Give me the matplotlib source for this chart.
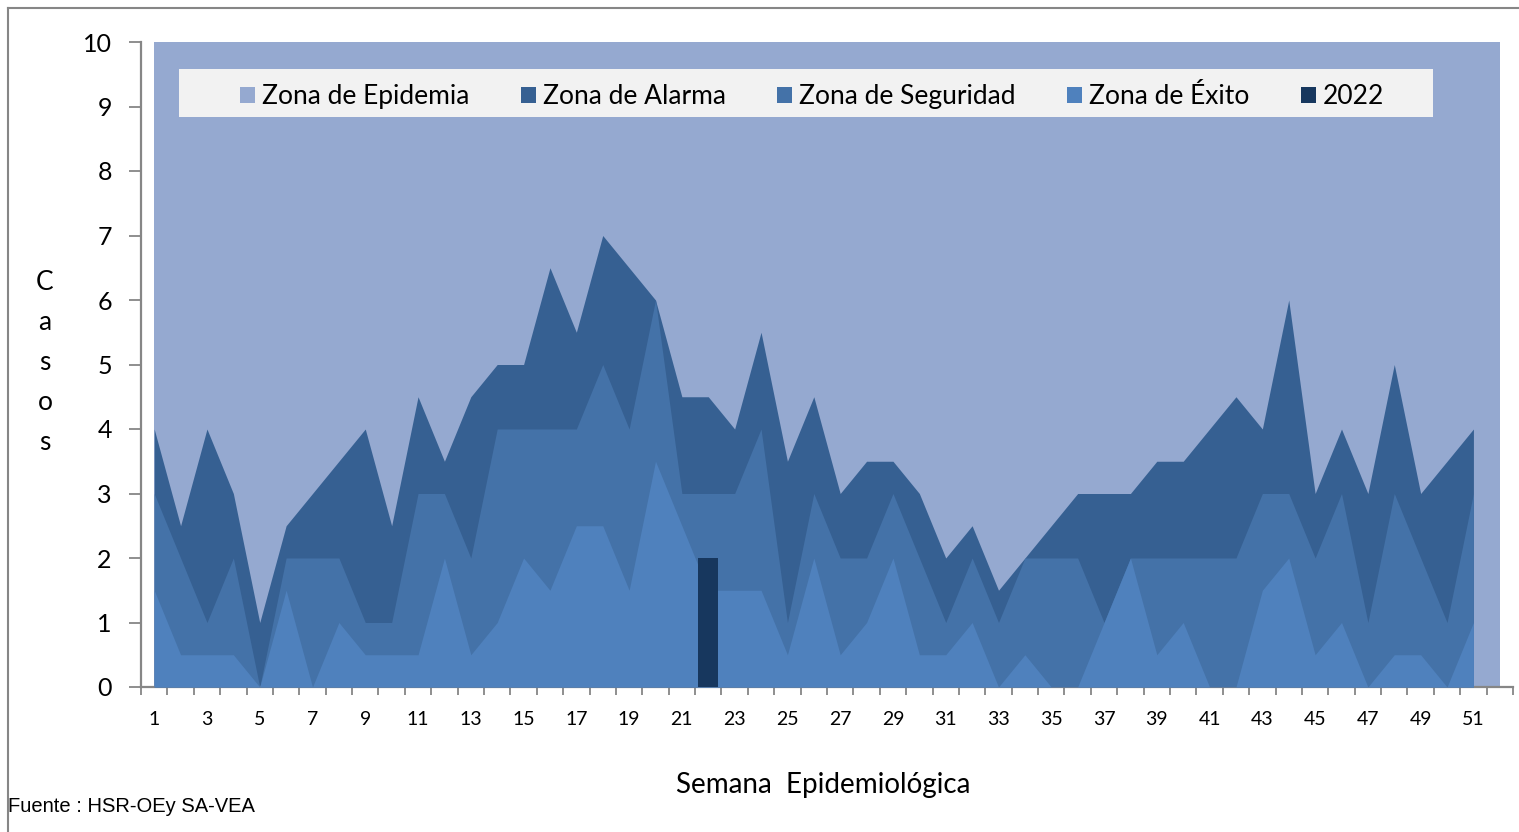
import numpy as np
import matplotlib
matplotlib.use('Agg')
import matplotlib.pyplot as plt
import matplotlib.patches as mpatches
from matplotlib.lines import Line2D

plt.rcParams['font.family'] = ['Lato', 'DejaVu Sans']

# ── Data ──────────────────────────────────────────────────────────────────────
semanas = list(range(1, 52))
semanas_epidemia = list(range(1, 53))

zona_epidemia = [10, 10, 10, 10, 10, 10, 10, 10, 10, 10,
                 10, 10, 10, 10, 10, 10, 10, 10, 10, 10,
                 10, 10, 10, 10, 10, 10, 10, 10, 10, 10,
                 10, 10, 10, 10, 10, 10, 10, 10, 10, 10,
                 10, 10, 10, 10, 10, 10, 10, 10, 10, 10,
                 10, 10]
zona_alarma = [4, 2.5, 4, 3, 1, 2.5, 3, 3.5, 4, 2.5,
               4.5, 3.5, 4.5, 5, 5, 6.5, 5.5, 7, 6.5, 6,
               4.5, 4.5, 4, 5.5, 3.5, 4.5, 3, 3.5, 3.5, 3,
               2, 2.5, 1.5, 2, 2.5, 3, 3, 3, 3.5, 3.5,
               4, 4.5, 4, 6, 3, 4, 3, 5, 3, 3.5,
               4]
zona_seguridad = [3, 2, 1, 2, 0, 2, 2, 2, 1, 1,
                  3, 3, 2, 4, 4, 4, 4, 5, 4, 6,
                  3, 3, 3, 4, 1, 3, 2, 2, 3, 2,
                  1, 2, 1, 2, 2, 2, 1, 2, 2, 2,
                  2, 2, 3, 3, 2, 3, 1, 3, 2, 1,
                  3]
zona_exito = [1.5, 0.5, 0.5, 0.5, 0, 1.5, 0, 1, 0.5, 0.5,
              0.5, 2, 0.5, 1, 2, 1.5, 2.5, 2.5, 1.5, 3.5,
              2.5, 1.5, 1.5, 1.5, 0.5, 2, 0.5, 1, 2, 0.5,
              0.5, 1, 0, 0.5, 0, 0, 1, 2, 0.5, 1,
              0, 0, 1.5, 2, 0.5, 1, 0, 0.5, 0.5, 0,
              1]
semanas_2022 = [22]
casos_2022 = [2]

xtick_labels = [str(s) for s in semanas if s % 2 == 1]

# ── Colours ───────────────────────────────────────────────────────────────────
C_EPI = '#95A9D0'
C_ALA = '#366092'
C_SEG = '#4472A8'
C_EXI = '#4F81BD'
C_2022 = '#17375E'
GRAY = '#868686'

fig = plt.figure(figsize=(15.19, 8.32), dpi=100)
ax = fig.add_axes([141 / 1519, (832 - 687) / 832, 1372 / 1519, 645 / 832])

ax.fill_between(semanas_epidemia, 0, zona_epidemia, color=C_EPI, lw=0, zorder=1)
ax.fill_between(semanas, 0, zona_alarma, color=C_ALA, lw=0, zorder=2)
ax.fill_between(semanas, 0, zona_seguridad, color=C_SEG, lw=0, zorder=3)
ax.fill_between(semanas, 0, zona_exito, color=C_EXI, lw=0, zorder=4)
ax.bar(semanas_2022, casos_2022, width=0.76, color=C_2022, zorder=5)

ax.set_xlim(0.5, 52.5)
ax.set_ylim(0, 10)

ax.spines['top'].set_visible(False)
ax.spines['right'].set_visible(False)
for s in ('left', 'bottom'):
    ax.spines[s].set_color(GRAY)
    ax.spines[s].set_linewidth(1.6)

ax.set_yticks(range(0, 11))
ax.tick_params(axis='y', length=9, width=1.3, color=GRAY, pad=12,
               labelsize=18, direction='out')
ax.set_xticks([s for s in semanas if s % 2 == 1])
ax.set_xticklabels(xtick_labels)
ax.set_xticks(np.arange(0.5, 53, 1.0), minor=True)
ax.tick_params(axis='x', which='major', length=0, pad=17, labelsize=14)
ax.tick_params(axis='x', which='minor', length=6, width=1.3, color=GRAY,
               direction='out')

# legend box
ax.add_patch(mpatches.Rectangle((0.028, 0.884), 0.914, 0.074,
                                transform=ax.transAxes, facecolor='#F2F2F2',
                                edgecolor='none', zorder=6))
handles = [mpatches.Patch(facecolor=C_EPI, label='Zona de Epidemia'),
           mpatches.Patch(facecolor=C_ALA, label='Zona de Alarma'),
           mpatches.Patch(facecolor=C_SEG, label='Zona de Seguridad'),
           mpatches.Patch(facecolor=C_EXI, label='Zona de Éxito'),
           mpatches.Patch(facecolor=C_2022, label='2022')]
leg = ax.legend(handles=handles, loc='center', bbox_to_anchor=(0.489, 0.915),
                ncol=5, frameon=False, fontsize=19, handlelength=0.58,
                handleheight=0.58, handletextpad=0.25, columnspacing=1.95)
leg.set_zorder(7)

# axis titles
fig.text(823 / 1519, 1 - 785 / 832, 'Semana  Epidemiológica', ha='center',
         va='center', fontsize=20)
fig.text(45 / 1519, 1 - 362 / 832, 'C\na\ns\no\ns', ha='center', va='center',
         fontsize=19, linespacing=1.75)
fig.text(8 / 1519, 1 - 806 / 832, 'Fuente : HSR-OEy SA-VEA', ha='left',
         va='center', fontsize=14.5, family='Liberation Sans')

# chart border
bx, by = 8 / 1519, 1 - 8 / 832
fig.add_artist(Line2D([bx, bx], [0, by], transform=fig.transFigure,
                      color=GRAY, lw=1.5))
fig.add_artist(Line2D([bx, 1], [by, by], transform=fig.transFigure,
                      color=GRAY, lw=1.5))

fig.savefig('out.png', dpi=100)
